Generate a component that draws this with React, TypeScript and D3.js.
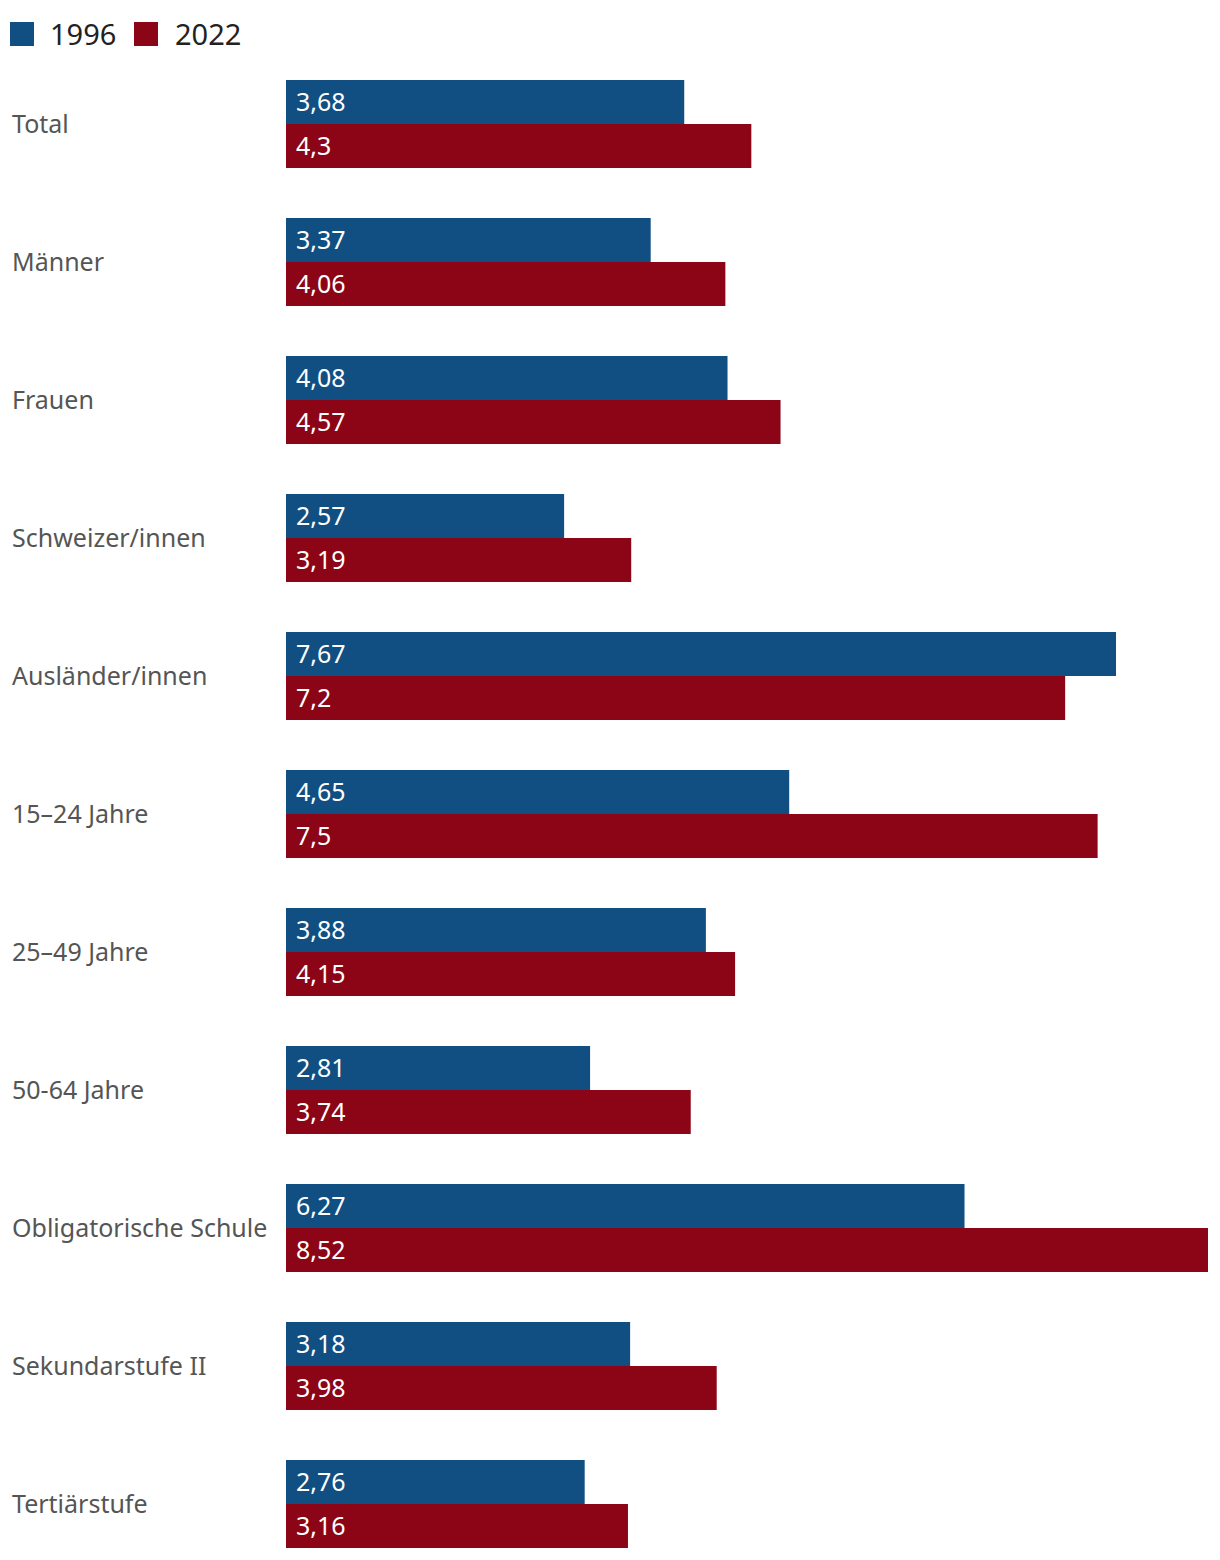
import React from "react";
import * as d3 from "d3";

const categories = [
  "Total",
  "Männer",
  "Frauen",
  "Schweizer/innen",
  "Ausländer/innen",
  "15–24 Jahre",
  "25–49 Jahre",
  "50-64 Jahre",
  "Obligatorische Schule",
  "Sekundarstufe II",
  "Tertiärstufe",
];
const values1996 = [3.68, 3.37, 4.08, 2.57, 7.67, 4.65, 3.88, 2.81, 6.27, 3.18, 2.76];
const values2022 = [4.3, 4.06, 4.57, 3.19, 7.2, 7.5, 4.15, 3.74, 8.52, 3.98, 3.16];
const seriesNames = ["1996", "2022"];
const colors = ["#114f82", "#8b0516"];

const W = 1220;
const H = 1560;
const FONT = "'Noto Sans', 'Open Sans', sans-serif";

export default function App() {
  const x = d3.scaleLinear().domain([0, 8.52]).range([286, 1208]);
  const y = d3.scaleBand<string>().domain(categories).range([80, 80 + 138 * 11]).paddingInner(50 / 138).paddingOuter(0);
  // adjust: band covers 88px bars, step 138
  const step = 138;
  const bandY = (i: number) => 80 + i * step;
  const barH = 44;
  const fmt = (v: number) => String(v).replace(".", ",");
  return (
    <svg width={W} height={H} style={{ position: "absolute", left: 0, top: 0 }} fontFamily={FONT}>
      {/* legend */}
      <g>
        <rect x={10} y={22} width={24} height={24} fill={colors[0]} />
        <text x={50} y={45} fontSize={29} fill="#222">{seriesNames[0]}</text>
        <rect x={134} y={22} width={24} height={24} fill={colors[1]} />
        <text x={175} y={45} fontSize={29} fill="#222">{seriesNames[1]}</text>
      </g>
      {categories.map((c, i) => {
        const y0 = bandY(i);
        return (
          <g key={c}>
            <text x={12} y={y0 + barH} dy="0.35em" fontSize={25} fill="#555">{c}</text>
            <rect x={x(0)} y={y0} width={x(values1996[i]) - x(0)} height={barH} fill={colors[0]} />
            <rect x={x(0)} y={y0 + barH} width={x(values2022[i]) - x(0)} height={barH} fill={colors[1]} />
            <text x={x(0) + 10} y={y0 + barH / 2} dy="0.35em" fontSize={25} fill="#fff">{fmt(values1996[i])}</text>
            <text x={x(0) + 10} y={y0 + barH * 1.5} dy="0.35em" fontSize={25} fill="#fff">{fmt(values2022[i])}</text>
          </g>
        );
      })}
    </svg>
  );
}
